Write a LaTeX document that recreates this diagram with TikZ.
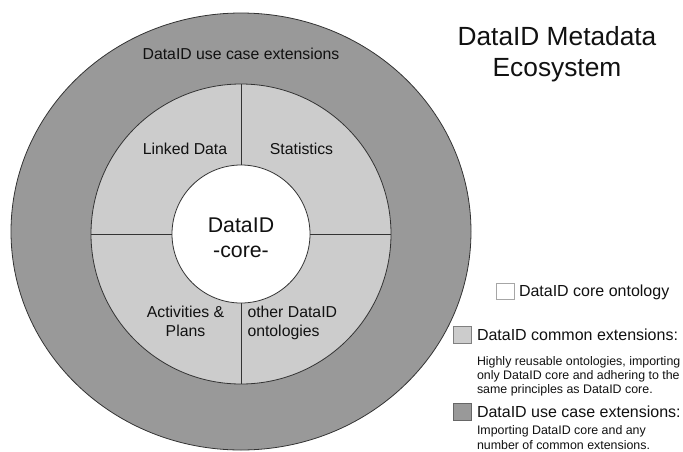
\documentclass[tikz,border=0pt]{standalone}
\usepackage{fontspec}
\setmainfont{Liberation Sans}
\usetikzlibrary{shapes.geometric}
\definecolor{outergray}{HTML}{999999}
\definecolor{midgray}{HTML}{CCCCCC}
\definecolor{edgecol}{HTML}{333333}
\definecolor{txtcol}{HTML}{111111}
\begin{document}
\begin{tikzpicture}[x=1pt,y=-1pt,
  ringline/.style={draw=edgecol, line width=0.8pt},
  lbl/.style={inner sep=0pt, outer sep=0pt, text=txtcol, font=\fontsize{15.8}{19}\selectfont},
  bigc/.style={inner sep=0pt, outer sep=0pt, text=txtcol, font=\fontsize{21.3}{25}\selectfont},
  ttl/.style={inner sep=0pt, outer sep=0pt, text=txtcol, font=\fontsize{26.3}{31}\selectfont},
  legh/.style={inner sep=0pt, outer sep=0pt, text=txtcol, anchor=west, font=\fontsize{16}{19}\selectfont},
  legd/.style={inner sep=0pt, outer sep=0pt, text=txtcol, anchor=west, font=\fontsize{12.4}{15}\selectfont},
  legbox/.style={rectangle, inner sep=0pt, outer sep=0pt, minimum width=18.5pt, minimum height=17pt, line width=0.8pt}
]
\useasboundingbox (0,0) rectangle (683,451);
\fill[white] (0,0) rectangle (683,451);

% rings
\node[ellipse, ringline, fill=outergray, minimum width=460pt, minimum height=437pt, inner sep=0pt, outer sep=0pt] (outer) at (241,231.5) {};
\node[circle, ringline, fill=midgray, minimum size=300pt, inner sep=0pt, outer sep=0pt] (mid) at (241,234) {};
\coordinate (c) at (241,234);
\node[circle, minimum size=138pt, inner sep=0pt, outer sep=0pt] (innerpos) at (c) {};
\draw[ringline] (innerpos.north) -- (mid.north);
\draw[ringline] (innerpos.south) -- (mid.south);
\draw[ringline] (innerpos.west) -- (mid.west);
\draw[ringline] (innerpos.east) -- (mid.east);
\node[circle, ringline, fill=white, minimum size=138pt, inner sep=0pt, outer sep=0pt] (inner) at (c) {};

% ring labels
\node[lbl, anchor=base] (uce) at (241,59) {DataID use case extensions};
\node[lbl, anchor=base] (ld) at (185,154) {Linked Data};
\node[lbl, anchor=base] (st) at (301.5,154) {Statistics};
\node[bigc, anchor=base] (core1) at (241,232) {DataID};
\node[bigc, anchor=base] (core2) at (241,257) {-core-};
\node[lbl, anchor=base] (ap1) at (185.5,317) {Activities \&};
\node[lbl, anchor=base] (ap2) at (185.5,336) {Plans};
\node[lbl, anchor=base west] (od1) at (247.5,317) {other DataID};
\node[lbl, anchor=base west] (od2) at (247.5,336) {ontologies};

% title
\node[ttl, anchor=base] (t1) at (557,45) {DataID Metadata};
\node[ttl, anchor=base] (t2) at (557,76) {Ecosystem};

% legend
\node[legbox, draw=gray!70, fill=white, minimum width=18pt, minimum height=16pt] (b1) at (505,291) {};
\node[legh] (l1) at (519,292) {DataID core ontology};
\node[legbox, draw=gray, fill=midgray] (b2) at (462.5,335) {};
\node[legh] (l2) at (477,335) {DataID common extensions:};
\node[legd] (d21) at (477,362) {Highly reusable ontologies, importing};
\node[legd] (d22) at (477,376) {only DataID core and adhering to the};
\node[legd] (d23) at (477,390) {same principles as DataID core.};
\node[legbox, draw=gray!80!black, fill=outergray] (b3) at (462.5,412) {};
\node[legh] (l3) at (477,412) {DataID use case extensions:};
\node[legd] (d31) at (477,431) {Importing DataID core and any};
\node[legd] (d32) at (477,445) {number of common extensions.};
\end{tikzpicture}
\end{document}
